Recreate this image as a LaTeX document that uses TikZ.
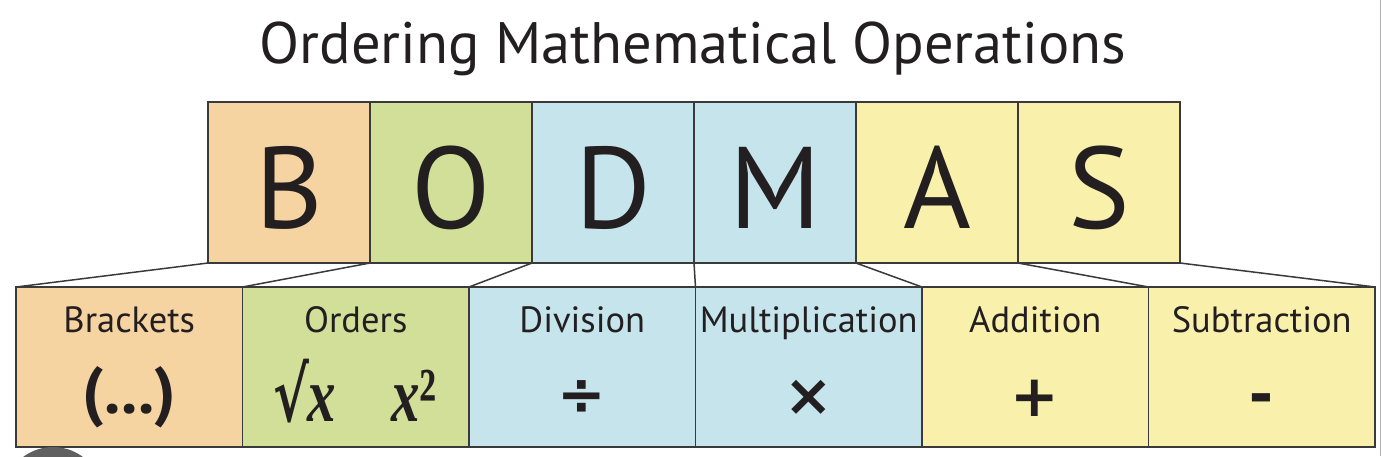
\documentclass[tikz,border=0pt]{standalone}
\usepackage{fontspec}
\setmainfont{PT Sans}
\newfontfamily\mathserif{Liberation Serif}
\newfontfamily\symfont{DejaVu Sans}
\newfontfamily\rootfont{DejaVu Serif}
\definecolor{lc}{HTML}{3A3A3A}
\definecolor{tc}{HTML}{231F20}
\definecolor{cB}{HTML}{F6D4A1}
\definecolor{cO}{HTML}{D1DF99}
\definecolor{cD}{HTML}{C6E4EC}
\definecolor{cA}{HTML}{F9F1AB}
\begin{document}
\begin{tikzpicture}[x=1pt,y=-1pt,
  box/.style={draw=lc, line width=1.5pt, inner sep=0pt, outer sep=0pt, anchor=north west},
  topbox/.style={box, minimum width=162pt, minimum height=161pt},
  botbox/.style={box, minimum width=226.5pt, minimum height=160pt},
  letter/.style={font=\fontsize{116}{116}\selectfont, text=tc, anchor=base, inner sep=0pt},
  lab/.style={font=\fontsize{36.5}{36.5}\selectfont, text=tc, anchor=base, inner sep=0pt},
  sym/.style={font=\symfont\bfseries\fontsize{58}{58}\selectfont, text=tc, inner sep=0pt},
  msym/.style={font=\mathserif\bfseries\fontsize{60}{60}\selectfont, text=tc, inner sep=0pt},
  conn/.style={draw=lc, line width=1.5pt}]
\useasboundingbox (0,0) rectangle (1384,456);
\fill[white] (0,0) rectangle (1384,456);
% title
\node[font=\fontsize{58.5}{58.5}\selectfont, text=tc, anchor=base, inner sep=0pt] (title) at (693,63) {Ordering Mathematical Operations};
% top boxes
\node[topbox, fill=cB] (tB) at (208,102) {};
\node[topbox, fill=cO] (tO) at (370,102) {};
\node[topbox, fill=cD] (tD) at (532,102) {};
\node[topbox, fill=cD] (tM) at (694,102) {};
\node[topbox, fill=cA] (tA) at (856,102) {};
\node[topbox, fill=cA] (tS) at (1018,102) {};
\node[letter] (lB) at (289,228) {B};
\node[letter] (lO) at (451,228) {O};
\node[letter] (lD) at (613,228) {D};
\node[letter] (lM) at (775,228) {M};
\node[letter] (lA) at (937,228) {A};
\node[letter] (lS) at (1099,228) {S};
% bottom boxes
\node[botbox, fill=cB] (bB) at (16,287) {};
\node[botbox, fill=cO] (bO) at (242.5,287) {};
\node[botbox, fill=cD] (bD) at (469,287) {};
\node[botbox, fill=cD] (bM) at (695.5,287) {};
\node[botbox, fill=cA] (bA) at (922,287) {};
\node[botbox, fill=cA] (bS) at (1148.5,287) {};
\node[lab] (nB) at (129.25,332) {Brackets};
\node[lab] (nO) at (355.75,332) {Orders};
\node[lab] (nD) at (582.25,332) {Division};
\node[lab] (nM) at (808.75,332) {Multiplication};
\node[lab] (nA) at (1035.25,332) {Addition};
\node[lab] (nS) at (1261.75,332) {Subtraction};
% symbols
\node[font=\bfseries\fontsize{66}{66}\selectfont, text=tc, inner sep=0pt, anchor=base] (sB) at (129.25,413) {(...)};
\node[msym, anchor=base] (sO1) at (305,421) {\scalebox{1.05}[1.45]{\rootfont\bfseries\fontsize{52}{52}\selectfont √}\kern-2pt\scalebox{0.95}[1.3]{\textit{x}}};
\node[msym, anchor=base] (sO2) at (414,421) {\scalebox{0.95}[1.3]{\textit{x}²}};
\node[sym] (sD) at (582.25,398) {÷};
\node[sym] (sM) at (808.75,398) {×};
\node[sym] (sA) at (1035.25,398) {+};
\node[font=\bfseries\fontsize{72}{72}\selectfont, text=tc, inner sep=0pt, anchor=base] (sS) at (1261.75,418) {-};
% connectors
\draw[conn] (tB.south west) -- (bB.north west);
\draw[conn] (tO.south west) -- (bO.north west);
\draw[conn] (tD.south west) -- (bD.north west);
\draw[conn] (tM.south west) -- (bM.north west);
\draw[conn] (tA.south west) -- (bA.north west);
\draw[conn] (tS.south west) -- (bS.north west);
\draw[conn] (tS.south east) -- (bS.north east);
% screenshot artefacts
\draw[gray!60, line width=1pt] (1380,0) -- (1380,456);
\begin{scope}
\clip (0,0) rectangle (1384,456);
\fill[gray!75!black] (53,497) circle (50);
\end{scope}
\end{tikzpicture}
\end{document}
